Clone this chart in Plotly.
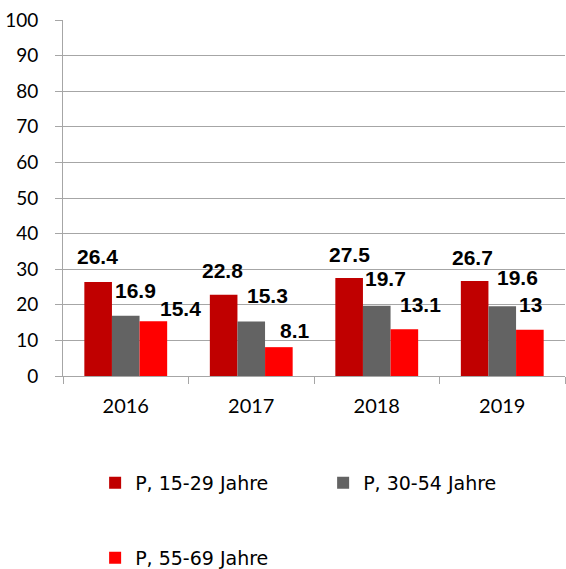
import plotly.graph_objects as go

years = ["2016", "2017", "2018", "2019"]
series_names = ["P, 15-29 Jahre", "P, 30-54 Jahre", "P, 55-69 Jahre"]
v_15_29 = [26.4, 22.8, 27.5, 26.7]
v_30_54 = [16.9, 15.3, 19.7, 19.6]
v_55_69 = [15.4, 8.1, 13.1, 13]
y_ticks = [0, 10, 20, 30, 40, 50, 60, 70, 80, 90, 100]

series_values = [v_15_29, v_30_54, v_55_69]
colors = ["#C00000", "#636363", "#FF0000"]
legends = ["legend", "legend", "legend2"]

# manual label nudges in px (dx, dy) per series / category, as in the original
label_nudge = [
    [(-1, 26), (-1, 24), (0, 24), (-2, 23)],
    [(10, 25), (16, 26), (9, 27), (15, 29)],
    [(27, 13), (16, 17), (16, 25), (1, 25)],
]

fig = go.Figure()
for name, vals, col, lg in zip(series_names, series_values, colors, legends):
    fig.add_trace(go.Bar(x=years, y=vals, name=name, marker_color=col,
                         marker_line_width=0, legend=lg))

bar_w = 0.22
ann = []
for s, vals in enumerate(series_values):
    for i, v in enumerate(vals):
        dx, dy = label_nudge[s][i]
        ann.append(dict(x=i + (s - 1) * bar_w, y=v, xref="x", yref="y",
                        text=f"<b>{v:g}</b>", showarrow=False, xshift=dx, yshift=dy,
                        xanchor="center", yanchor="middle",
                        font=dict(family="Liberation Sans", size=21, color="#000000")))

font_legend = dict(family="DejaVu Sans", size=19, color="#000000")
fig.update_layout(
    width=566, height=569,
    margin=dict(l=63, r=1, t=20, b=193, autoexpand=False),
    plot_bgcolor="white", paper_bgcolor="white",
    barmode="group", bargap=0.34, bargroupgap=0,
    font=dict(family="Lato", size=19, color="#000000"),
    annotations=ann,
    showlegend=True,
    legend=dict(orientation="h", x=0.064, y=-0.30, xanchor="left", yanchor="middle",
                entrywidth=183, entrywidthmode="pixels", font=font_legend,
                bgcolor="rgba(0,0,0,0)"),
    legend2=dict(orientation="h", x=0.064, y=-0.511, xanchor="left", yanchor="middle",
                 font=font_legend, bgcolor="rgba(0,0,0,0)"),
    xaxis=dict(type="category", showline=True, linecolor="#A6A6A6", linewidth=1,
               ticks="outside", tickson="boundaries", ticklen=7, tickcolor="#A6A6A6",
               showgrid=False, tickfont=dict(family="Lato", size=20, color="#000000"),
               ticklabelstandoff=12),
    yaxis=dict(range=[0, 100], tickvals=y_ticks, showline=True, linecolor="#A6A6A6",
               linewidth=1, ticks="outside", ticklen=7, tickcolor="#A6A6A6",
               showgrid=True, gridcolor="#A6A6A6", gridwidth=1, zeroline=False,
               tickfont=dict(family="Lato", size=19, color="#000000"),
               ticklabelstandoff=13),
)

fig.write_html("out.html")
